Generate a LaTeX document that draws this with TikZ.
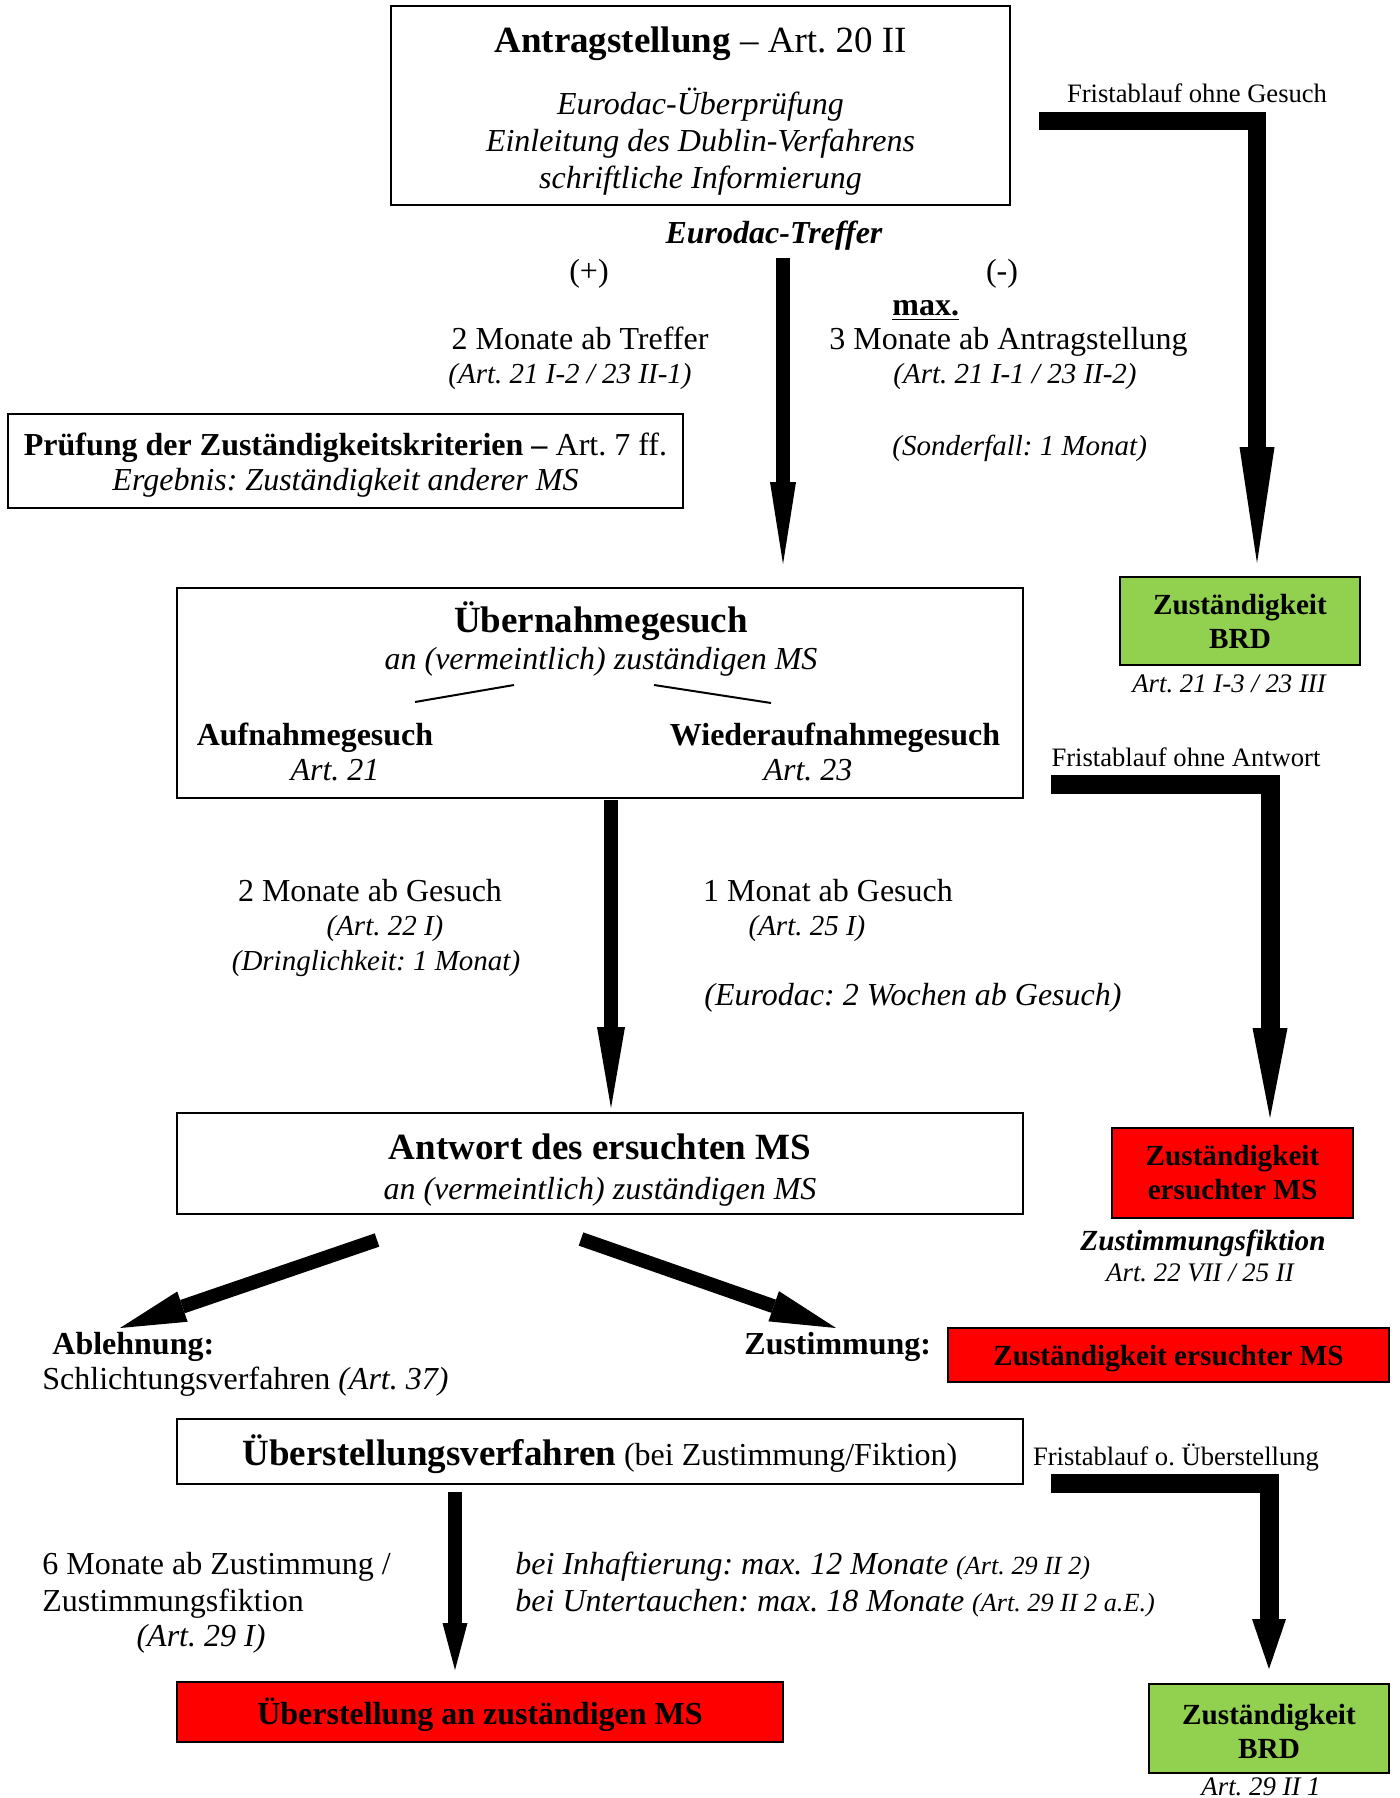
\documentclass[tikz,border=0pt]{standalone}
\usepackage{fontspec}
\setmainfont{Liberation Serif}
\usetikzlibrary{arrows.meta}
\definecolor{okgreen}{HTML}{92D050}
\definecolor{alarmred}{HTML}{FF0000}
\begin{document}
\frenchspacing
\begin{tikzpicture}[x=0.5pt,y=-0.5pt,
  box/.style={draw=black,line width=1pt,inner sep=0pt,align=center,font=\fontsize{16}{18.5}\selectfont},
  body/.style={inner sep=0pt,align=center,font=\fontsize{16}{18.5}\selectfont,text height=12pt,text depth=1.1pt},
  bodyit/.style={body,font=\fontsize{16}{18.5}\selectfont\itshape},
  bodybf/.style={body,font=\fontsize{16}{18.5}\selectfont\bfseries},
  noteit/.style={inner sep=0pt,font=\fontsize{14.5}{17}\selectfont\itshape,text height=11pt,text depth=1.1pt},
  bigbf/.style={inner sep=0pt,font=\fontsize{18.5}{22}\selectfont\bfseries,text height=14pt,text depth=1.4pt},
  smalltxt/.style={inner sep=0pt,font=\fontsize{13.3}{16}\selectfont,text height=10pt,text depth=1pt},
  coltxt/.style={font=\fontsize{14.6}{17}\selectfont\bfseries},
  greenbox/.style={box,fill=okgreen,coltxt},
  redbox/.style={box,fill=alarmred,coltxt},
  artnote/.style={inner sep=0pt,font=\fontsize{13.4}{16}\selectfont\itshape,text height=10pt,text depth=1pt},
  fatL/.style={line width=9.5pt,line join=miter,line cap=butt},
  slim/.style={line width=7pt,line cap=butt},
  thin/.style={line width=1pt}
  ]
\useasboundingbox (0,0) rectangle (1400,1798);

% ---------- top box ----------
\node[box,minimum width=309.5pt,minimum height=99.5pt] (antrag) at (700.5,105.5)
  {{\fontsize{18.5}{22}\selectfont\rule{0pt}{18.5pt}\textbf{Antragstellung} – Art. 20 II}\\[12.5pt]
   \textit{Eurodac-Überprüfung}\\
   \textit{Einleitung des Dublin-Verfahrens}\\
   \textit{schriftliche Informierung}};

\node[body,font=\fontsize{16}{18.5}\selectfont\bfseries\itshape] (treffer) at (774,233) {Eurodac-Treffer};
\node[body] (plus) at (589,271) {(+)};
\node[body] (minus) at (1002,271) {(-)};

\node[body] (m2treffer) at (580,339) {2 Monate ab Treffer};
\node[noteit] (art21a) at (570,374) {(Art. 21 I-2 / 23 II-1)};

\node[bodybf,anchor=west] (max) at (892,305) {\underline{max.}};
\node[body,anchor=west] (m3antrag) at (829,339) {3 Monate ab Antragstellung};
\node[noteit,anchor=west] (art21b) at (893,374) {(Art. 21 I-1 / 23 II-2)};
\node[noteit,anchor=west] (sonder) at (892,446) {(Sonderfall: 1 Monat)};

% Pruefung box
\node[box,minimum width=337.5pt,minimum height=47pt,font=\fontsize{16}{17.5}\selectfont] (pruef) at (345.5,461)
  {\rule{0pt}{15pt}\textbf{Prüfung der Zuständigkeitskriterien –} Art. 7 ff.\\
   \textit{Ergebnis: Zuständigkeit anderer MS}};

% Fristablauf ohne Gesuch
\node[smalltxt] (frist1) at (1197,94) {Fristablauf ohne Gesuch};
\node[greenbox,minimum width=120pt,minimum height=44pt] (brd1) at (1240,621) {Zuständigkeit\\BRD};
\node[artnote] (brd1art) at (1229,683) {Art. 21 I-3 / 23 III};

\coordinate (f1s) at (1039,121);
\coordinate (f1c) at (1257,121);
\coordinate (f1e) at (1257,563);
\draw[fatL,line width=9pt,-{Triangle[length=58pt,width=17.5pt,line width=0pt]}] (f1s) -- (f1c) -- (f1e);

% central arrow 1
\coordinate (a1s) at (783,258);
\coordinate (a1e) at (783,564);
\draw[slim,-{Triangle[length=41pt,width=13pt,line width=0pt]}] (a1s) -- (a1e);

% ---------- Uebernahmegesuch ----------
\node[box,minimum width=423pt,minimum height=105pt] (uebern) at (600,693) {};
\node[bigbf] (uebtitle) at (601,620) {Übernahmegesuch};
\node[bodyit] (uebsub) at (601,659) {an (vermeintlich) zuständigen MS};
\node[bodybf] (aufn) at (315,735) {Aufnahmegesuch};
\node[bodyit] (aufnart) at (335,770) {Art. 21};
\node[bodybf] (wied) at (835,735) {Wiederaufnahmegesuch};
\node[bodyit] (wiedart) at (808,770) {Art. 23};
\coordinate (dl1) at (514,685); \coordinate (dl2) at (415,702);
\coordinate (dr1) at (654,685); \coordinate (dr2) at (771,703);
\draw[thin] (dl1) -- (dl2);
\draw[thin] (dr1) -- (dr2);

% Fristablauf ohne Antwort
\node[smalltxt] (frist2) at (1186,757) {Fristablauf ohne Antwort};
\coordinate (f2s) at (1051,784);
\coordinate (f2c) at (1270,784);
\coordinate (f2e) at (1270,1118);
\draw[fatL,-{Triangle[length=45pt,width=17.5pt,line width=0pt]}] (f2s) -- (f2c) -- (f2e);

\node[body] (m2ges) at (370,891) {2 Monate ab Gesuch};
\node[noteit] (art22) at (385,926) {(Art. 22 I)};
\node[noteit] (dringl) at (376,961) {(Dringlichkeit: 1 Monat)};
\node[body] (m1ges) at (828,891) {1 Monat ab Gesuch};
\node[noteit] (art25) at (807,926) {(Art. 25 I)};
\node[bodyit] (eurod) at (913,995) {(Eurodac: 2 Wochen ab Gesuch)};

% central arrow 2
\coordinate (a2s) at (611,800);
\coordinate (a2e) at (611,1108);
\draw[slim,-{Triangle[length=40.5pt,width=14pt,line width=0pt]}] (a2s) -- (a2e);

% ---------- Antwort ----------
\node[box,minimum width=423pt,minimum height=50.5pt,font=\fontsize{16}{20}\selectfont] (antw) at (600,1163.5)
  {{\fontsize{18.5}{20}\selectfont\bfseries\rule{0pt}{19pt}Antwort des ersuchten MS}\\
   \textit{an (vermeintlich) zuständigen MS}};

\node[redbox,minimum width=120.5pt,minimum height=45pt] (ersMS1) at (1232.5,1173) {Zuständigkeit\\ersuchter MS};
\node[inner sep=0pt,font=\fontsize{14.6}{17}\selectfont\bfseries\itshape,text height=11pt,text depth=1.1pt] (fiktion) at (1203,1241) {Zustimmungsfiktion};
\node[artnote] (fiktart) at (1200,1272) {Art. 22 VII / 25 II};

% diagonal arrows
\coordinate (dls) at (377,1240);
\coordinate (dle) at (120,1328);
\coordinate (drs) at (581,1239);
\coordinate (dre) at (836,1328);
\draw[slim,-{Triangle[length=33pt,width=16pt,line width=0pt]}] (dls) -- (dle);
\draw[slim,-{Triangle[length=33pt,width=16pt,line width=0pt]}] (drs) -- (dre);

\node[bodybf,anchor=west] (ablehn) at (52,1344) {Ablehnung:};
\node[body,anchor=west] (schlicht) at (42,1379) {Schlichtungsverfahren \textit{(Art. 37)}};
\node[bodybf,anchor=west] (zustim) at (744,1344) {Zustimmung:};
\node[redbox,minimum width=220.5pt,minimum height=27pt,text depth=0pt] (ersMS2) at (1168.5,1355) {Zuständigkeit ersuchter MS};

% ---------- Ueberstellungsverfahren ----------
\node[box,minimum width=423pt,minimum height=32.5pt,text depth=1pt] (ueberst) at (600,1451.5)
  {{\fontsize{18.5}{22}\selectfont\bfseries Überstellungsverfahren} (bei Zustimmung/Fiktion)};
\node[smalltxt] (frist3) at (1176,1456) {Fristablauf o. Überstellung};
\coordinate (f3s) at (1051,1483);
\coordinate (f3c) at (1269,1483);
\coordinate (f3e) at (1269,1669);
\draw[fatL,-{Triangle[length=25pt,width=17pt,line width=0pt]}] (f3s) -- (f3c) -- (f3e);

% central arrow 3
\coordinate (a3s) at (455,1492);
\coordinate (a3e) at (455,1670);
\draw[slim,-{Triangle[length=23.5pt,width=12.5pt,line width=0pt]}] (a3s) -- (a3e);

\node[body,anchor=west] (m6) at (42,1564) {6 Monate ab Zustimmung /};
\node[body,anchor=west] (m6b) at (42,1601) {Zustimmungsfiktion};
\node[bodyit] (art29) at (201,1636) {(Art. 29 I)};
\node[bodyit,anchor=west] (haft) at (515,1564)
  {bei Inhaftierung: max. 12 Monate {\fontsize{13.1}{16}\selectfont(Art. 29 II 2)}};
\node[bodyit,anchor=west] (untert) at (515,1601)
  {bei Untertauchen: max. 18 Monate {\fontsize{13.1}{16}\selectfont(Art. 29 II 2 a.E.)}};

\node[redbox,minimum width=303pt,minimum height=30pt,text depth=1pt,font=\fontsize{16}{18.5}\selectfont\bfseries] (ueberstMS) at (480,1712) {Überstellung an zuständigen MS};
\node[greenbox,minimum width=120pt,minimum height=44.5pt] (brd2) at (1269,1728.5) {\rule{0pt}{13pt}Zuständigkeit\\BRD};
\node[artnote] (brd2art) at (1261,1786) {Art. 29 II 1};
\end{tikzpicture}
\end{document}
